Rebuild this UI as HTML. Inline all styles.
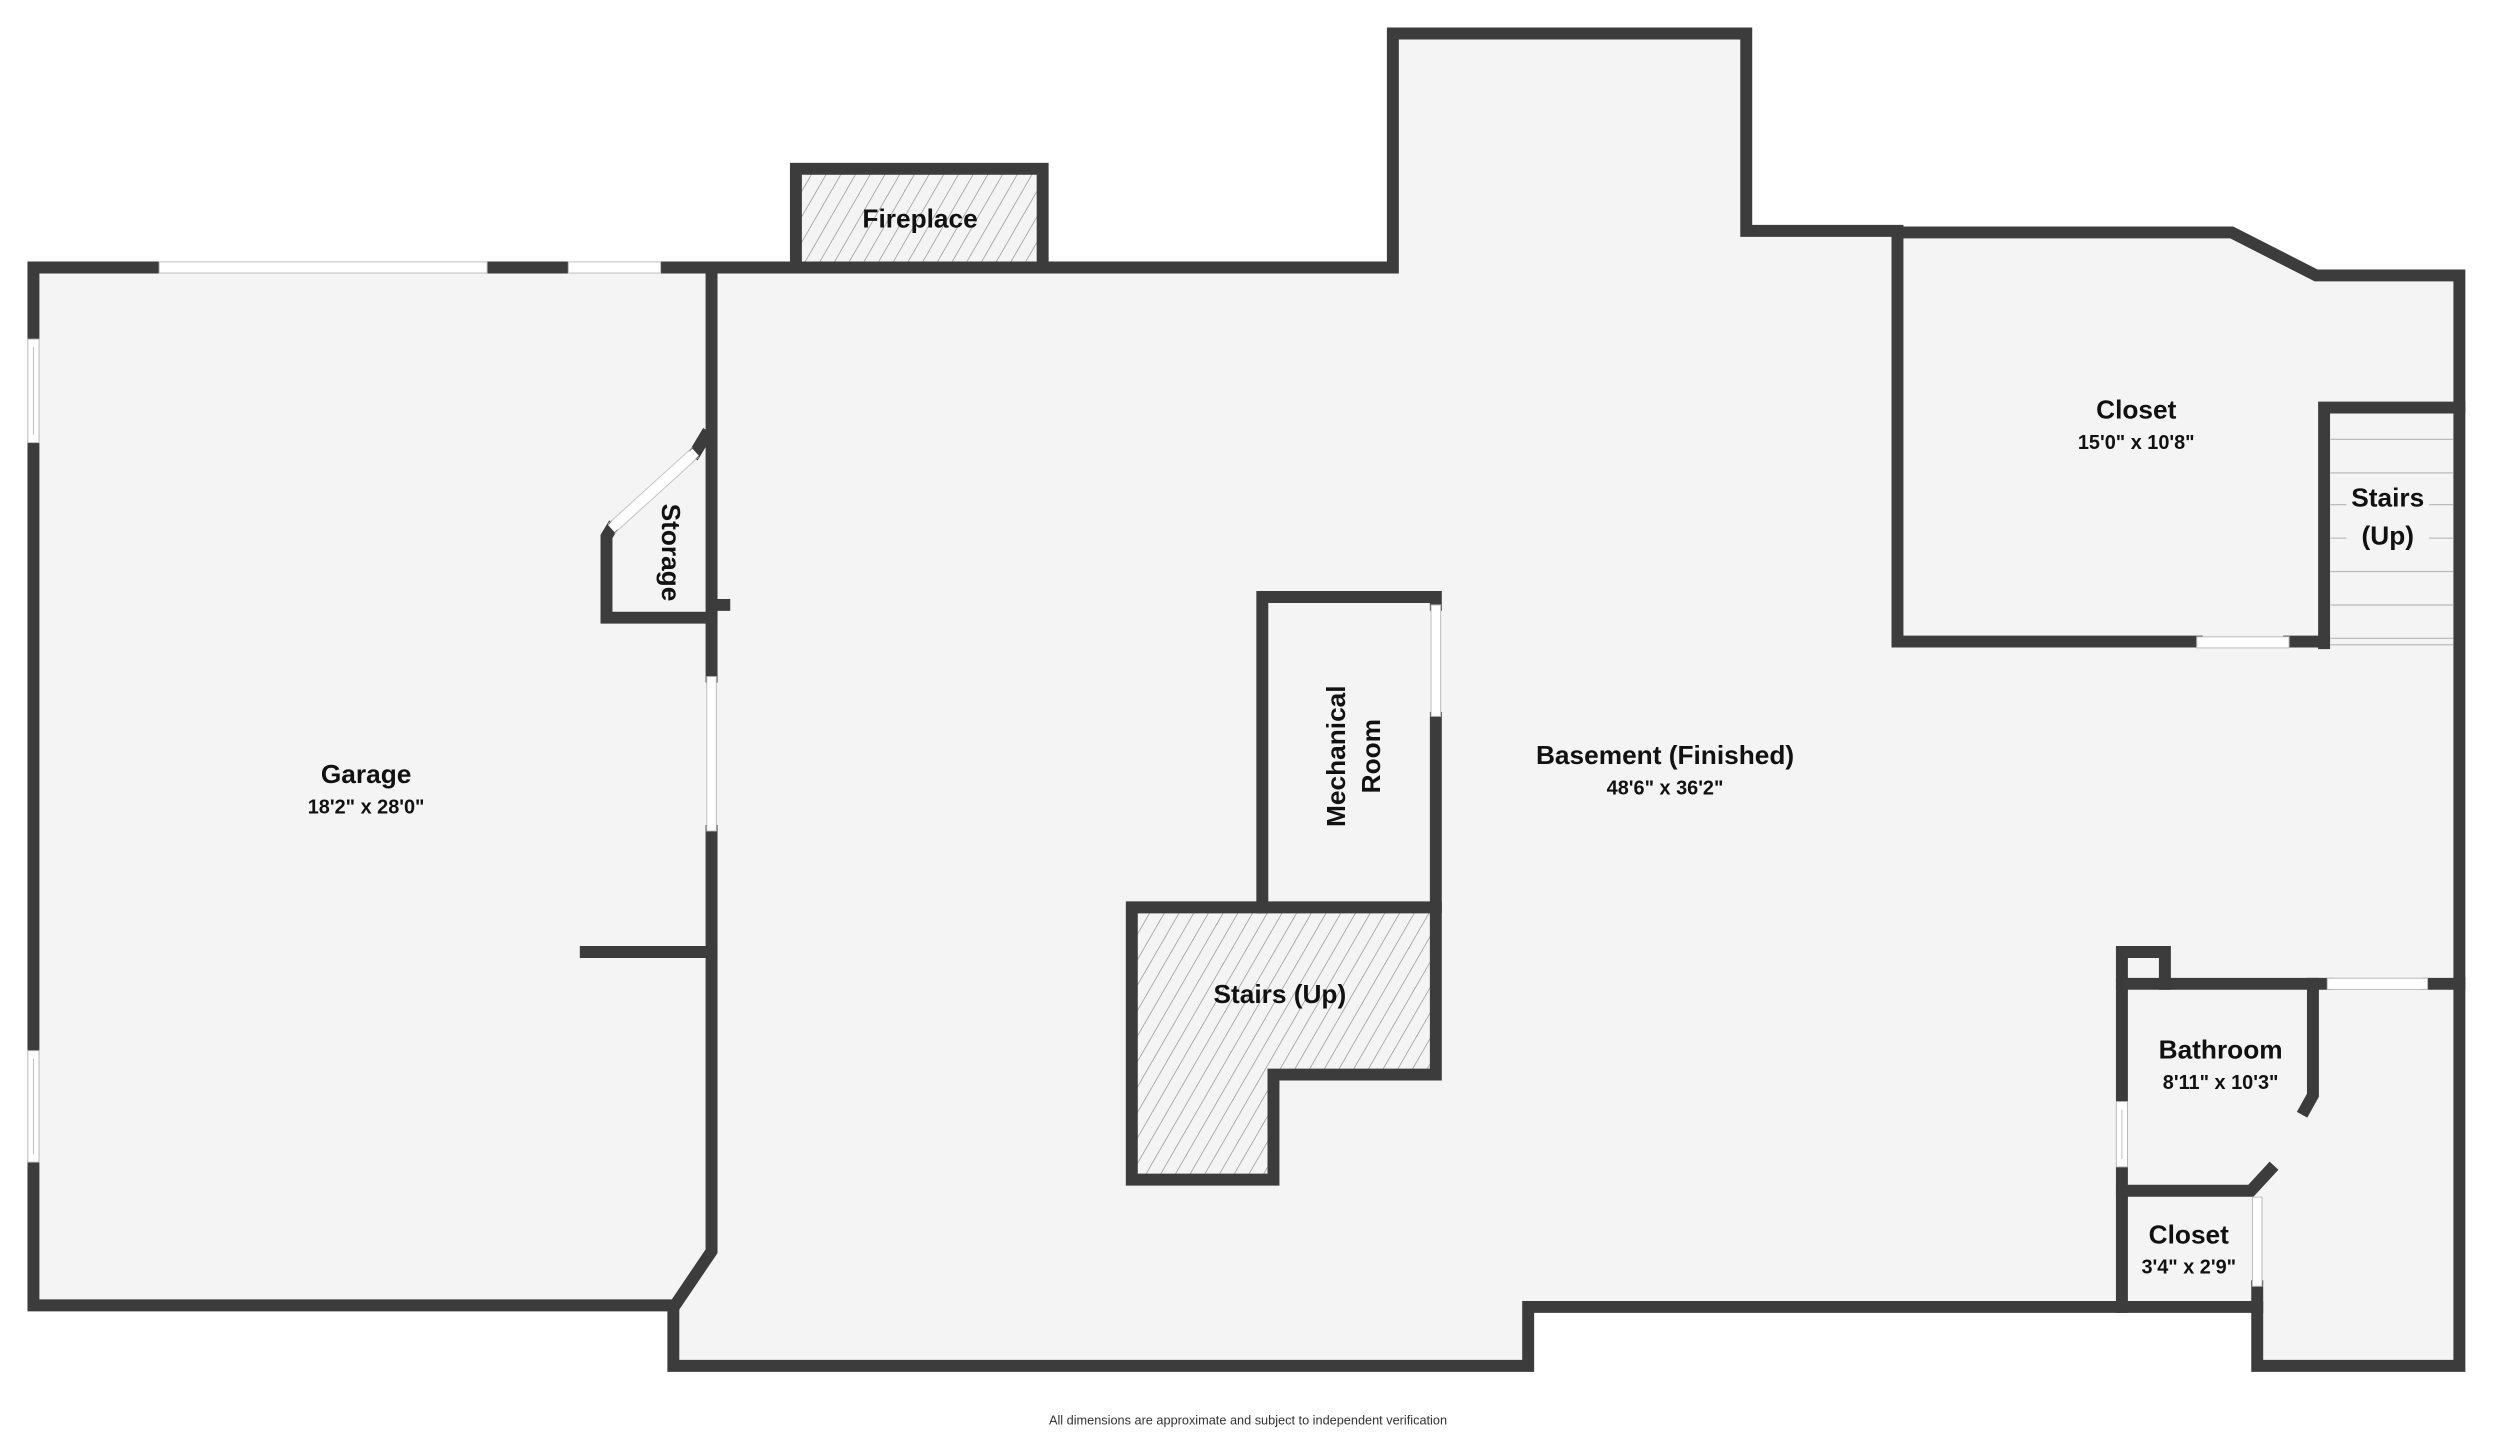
<!DOCTYPE html>
<html><head><meta charset="utf-8"><style>
html,body{margin:0;padding:0;background:#fff;}
svg{display:block;}
text{font-family:"Liberation Sans",sans-serif;fill:#111;}
.l{font-weight:bold;font-size:16.5px;}
.d{font-size:12.5px;font-weight:bold;}
</style></head><body>
<svg width="2496" height="1435" viewBox="0 0 1568 901.4" xmlns="http://www.w3.org/2000/svg">
<defs>
<pattern id="h" patternUnits="userSpaceOnUse" width="8" height="8" patternTransform="rotate(30)">
<rect width="8" height="8" fill="#f4f4f4"/>
<line x1="0" y1="0" x2="0" y2="8" stroke="#888" stroke-width="0.8"/>
</pattern>
</defs>
<rect width="1568" height="901.4" fill="#fff"/>
<polygon points="21,168 875,168 875,21 1097,21 1097,145 1192,145 1402,145 1455,173 1545,173 1545,858 1418,858 1418,821 960,821 960,858 423,858 423,820 21,820" fill="#f4f4f4"/>
<rect x="498" y="104" width="158" height="64" fill="url(#h)"/>
<polygon points="711,570 902,570 902,675 800,675 800,741 711,741" fill="url(#h)"/>
<g fill="none" stroke="#3c3c3c" stroke-width="7.5" stroke-linejoin="miter" stroke-linecap="square">
<polyline points="447,168 875,168 875,21 1097,21 1097,145 1192,145"/>
<polyline points="1192,146 1402,146 1455,173 1545,173 1545,858 1418,858 1418,808"/>
<polyline points="1418,821 960,821 960,858 423,858 423,820 21,820 21,168 447,168"/>
<polyline points="447,168 447,425"/>
<polyline points="447,522 447,786 424,820"/>
<line x1="368" y1="598" x2="447" y2="598"/>
<polyline points="443,274 437,284"/>
<polyline points="384,332 381,337 381,388 447,388"/>
<line x1="449" y1="380" x2="455" y2="380"/>
<rect x="500" y="106" width="155" height="62"/>
<polyline points="1192,146 1192,403 1380,403"/>
<polyline points="1438,403 1460,403"/>
<polyline points="1460,404 1460,256 1545,256"/>
<polyline points="793,570 793,375 902,375 902,380"/>
<line x1="902" y1="451" x2="902" y2="570"/>
<polygon points="711,570 902,570 902,675 800,675 800,741 711,741"/>
<polyline points="1333,821 1333,598 1360,598 1360,618"/>
<line x1="1333" y1="618" x2="1462" y2="618"/>
<line x1="1525" y1="618" x2="1545" y2="618"/>
<polyline points="1453,618 1453,688 1448,697"/>
<polyline points="1333,748 1414,748 1426,735"/>
</g>
<g fill="#fff" stroke="#bbb" stroke-width="0.6">
<rect x="100" y="164.5" width="206" height="7"/>
<rect x="357" y="164.5" width="58" height="7"/>
<rect x="17.5" y="213" width="7" height="65"/>
<rect x="17.5" y="660" width="7" height="70"/>
<rect x="444" y="425" width="6" height="97"/>
<rect x="899" y="380" width="6" height="70"/>
<rect x="1380" y="400" width="58" height="7"/>
<rect x="1462" y="614.5" width="63" height="7"/>
<rect x="1329.5" y="692" width="7" height="41"/>
<rect x="1415" y="752" width="6" height="56"/>
</g>
<line x1="21" y1="218" x2="21" y2="273" stroke="#bbb" stroke-width="0.6"/>
<line x1="21" y1="665" x2="21" y2="725" stroke="#bbb" stroke-width="0.6"/>
<line x1="1333" y1="697" x2="1333" y2="728" stroke="#bbb" stroke-width="0.6"/>
<line x1="437" y1="284" x2="384" y2="332" stroke="#fff" stroke-width="6"/>
<line x1="439" y1="287" x2="386" y2="335" stroke="#bbb" stroke-width="0.5"/>
<line x1="435" y1="281" x2="382" y2="329" stroke="#bbb" stroke-width="0.5"/>
<g stroke="#bbb" stroke-width="0.8">
<line x1="1464" y1="276" x2="1541" y2="276"/>
<line x1="1464" y1="297" x2="1541" y2="297"/>
<line x1="1464" y1="317" x2="1541" y2="317"/>
<line x1="1464" y1="338" x2="1541" y2="338"/>
<line x1="1464" y1="359" x2="1541" y2="359"/>
<line x1="1464" y1="380" x2="1541" y2="380"/>
<line x1="1464" y1="401" x2="1541" y2="401"/>
<line x1="1464" y1="405" x2="1541" y2="405"/>
</g>
<rect x="1474" y="302" width="52" height="44" fill="#f4f4f4"/>
<g text-anchor="middle">
<text class="l" x="578" y="143">Fireplace</text>
<text class="l" x="230" y="492">Garage</text>
<text class="d" x="230" y="511">18'2" x 28'0"</text>
<text class="l" x="1046" y="480">Basement (Finished)</text>
<text class="d" x="1046" y="499">48'6" x 36'2"</text>
<text class="l" x="1342" y="263">Closet</text>
<text class="d" x="1342" y="282">15'0" x 10'8"</text>
<text class="l" x="1500" y="318">Stairs</text>
<text class="l" x="1500" y="342">(Up)</text>
<text class="l" x="804" y="630">Stairs (Up)</text>
<text class="l" x="1395" y="665">Bathroom</text>
<text class="d" x="1395" y="684">8'11" x 10'3"</text>
<text class="l" x="1375" y="781">Closet</text>
<text class="d" x="1375" y="800">3'4" x 2'9"</text>
<text class="l" transform="translate(845,475) rotate(-90)">Mechanical</text>
<text class="l" transform="translate(867,475) rotate(-90)">Room</text>
<text class="l" transform="translate(416,347) rotate(90)">Storage</text>
<text x="784" y="895" style="font-size:8px;fill:#333">All dimensions are approximate and subject to independent verification</text>
</g>
</svg>
</body></html>
